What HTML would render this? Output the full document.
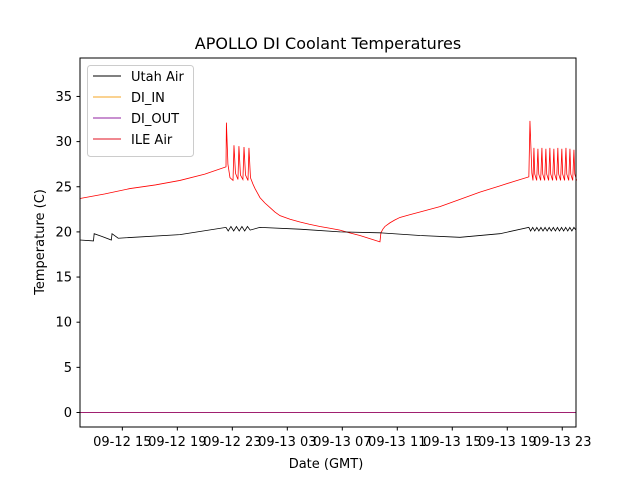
<!DOCTYPE html>
<html><head><meta charset="utf-8"><style>
body{margin:0;background:#fff}
svg{display:block;font-family:"DejaVu Sans","Liberation Sans",sans-serif}
</style></head><body>
<svg id="chart" width="640" height="480">
<rect width="640" height="480" fill="#fff"/>
<text x="328" y="49" text-anchor="middle" font-size="16">APOLLO DI Coolant Temperatures</text>
<text x="326" y="468" text-anchor="middle" font-size="13">Date (GMT)</text>
<text transform="translate(44,242) rotate(-90)" text-anchor="middle" font-size="13">Temperature (C)</text>
<g id="plot"></g>
<rect x="80" y="58" width="496" height="369" fill="none" stroke="#000" stroke-width="1"/>
<g>
<rect x="87.5" y="65.5" width="106" height="91" rx="3" fill="#fff" fill-opacity="0.8" stroke="#ccc"/>
<g><line x1="93" x2="121" y1="76" y2="76" stroke="#000" stroke-width="1"/><text x="131" y="81" font-size="13">Utah Air</text></g>
<g><line x1="93" x2="121" y1="97" y2="97" stroke="#f5a623" stroke-width="1"/><text x="131" y="102" font-size="13">DI_IN</text></g>
<g><line x1="93" x2="121" y1="118" y2="118" stroke="#9020a0" stroke-width="1"/><text x="131" y="123" font-size="13">DI_OUT</text></g>
<g><line x1="93" x2="121" y1="139" y2="139" stroke="#e01020" stroke-width="1"/><text x="131" y="144" font-size="13">ILE Air</text></g>
</g>
</svg>
<script>
const yTicks=[0,5,10,15,20,25,30,35];
const xTickHours=[15,19,23,27,31,35,39,43,47];
const xTickLabels=["09-12 15","09-12 19","09-12 23","09-13 03","09-13 07","09-13 11","09-13 15","09-13 19","09-13 23"];
const ileTimes=[11.92,13.7,15.56,17.4,19.19,21.0,22.54,22.57,22.68,22.83,23.05,23.12,23.23,23.41,23.48,23.59,23.77,23.85,23.96,24.14,24.21,24.32,24.5,24.65,24.83,25.01,25.37,25.74,26.1,26.47,27.2,27.92,28.6,29.37,30.1,30.83,31.5,32.28,33.0,33.74,33.81,33.95,34.10,34.46,34.8,35.19,35.9,36.65,38.10,39.56,41.01,42.47,43.5,44.57,44.65,44.79,44.87];
const ileValues=[23.7,24.2,24.8,25.2,25.7,26.4,27.2,32.1,27.5,26.0,25.7,29.6,26.5,25.8,29.5,26.3,25.8,29.4,26.3,25.7,29.3,26.0,25.3,24.8,24.3,23.8,23.2,22.7,22.2,21.8,21.4,21.1,20.85,20.6,20.4,20.2,19.9,19.6,19.25,18.9,19.9,20.3,20.6,21.0,21.3,21.6,21.9,22.2,22.8,23.6,24.4,25.1,25.6,26.1,32.3,26.5,25.7];
const ileSpikeTimes=[44.94,45.23,45.52,45.81,46.10,46.39,46.68,46.97,47.27,47.56,47.85];
const ileSpikeValues=[29.3,29.2,29.3,29.2,29.3,29.2,29.3,29.2,29.3,29.2,29.1];
const utahTimes=[11.92,12.9,12.95,13.5,14.2,14.25,14.7,19.19,22.54,22.7,22.9,23.1,23.3,23.5,23.7,23.9,24.1,24.3,25.0,27.92,30.83,33.74,36.65,39.56,42.47,44.57];
const utahValues=[19.1,19.0,19.8,19.5,19.1,19.8,19.3,19.7,20.5,20.1,20.6,20.1,20.6,20.1,20.6,20.1,20.6,20.2,20.5,20.3,20.0,19.9,19.6,19.4,19.8,20.5];
const utahOscTimes=[44.7,44.85,45.0,45.15,45.3,45.45,45.6,45.75,45.9,46.05,46.2,46.35,46.5,46.65,46.8,46.95,47.1,47.25,47.4,47.55,47.7,47.85,48.0];
const utahOscValues=[20.1,20.5,20.1,20.5,20.1,20.5,20.1,20.5,20.1,20.5,20.1,20.5,20.1,20.5,20.1,20.5,20.1,20.5,20.1,20.5,20.1,20.5,20.2];
const diTimes=[11.92,48.0];
const diInValues=[0,0];
const diOutValues=[0,0];

const X0=80,X1=576,H0=11.92,H1=48.0;
const Y0=412.5,PPU=9.03;
function xs(h){return X0+(h-H0)/(H1-H0)*(X1-X0);}
function ys(v){return Y0-v*PPU;}
const NS="http://www.w3.org/2000/svg";
const plot=document.getElementById('plot');
function mk(tag,attrs){const e=document.createElementNS(NS,tag);for(const k in attrs)e.setAttribute(k,attrs[k]);return e;}

yTicks.forEach(v=>{
  const g=mk('g',{});
  
  
  g.appendChild(mk('line',{x1:76.5,x2:80,y1:ys(v),y2:ys(v),stroke:'#000'}));
  const t=mk('text',{x:72,y:ys(v)+4.5,'text-anchor':'end','font-size':13});t.textContent=v;g.appendChild(t);
  plot.appendChild(g);
});
xTickHours.forEach((h,i)=>{
  const g=mk('g',{});
  
  
  g.appendChild(mk('line',{x1:xs(h),x2:xs(h),y1:427,y2:430.5,stroke:'#000'}));
  const t=mk('text',{x:xs(h),y:446,'text-anchor':'middle','font-size':13});t.textContent=xTickLabels[i];g.appendChild(t);
  plot.appendChild(g);
});
function path(ts,vs,color,name,w){
  const d=ts.map((t,i)=>(i?'L':'M')+xs(t).toFixed(2)+','+ys(vs[i]).toFixed(2)).join('');
  const p=mk('path',{d:d,fill:'none',stroke:color,'stroke-width':w||0.8});
  
  
  plot.appendChild(p);
}
const ileT=ileTimes.slice(),ileV=ileValues.slice();
ileSpikeTimes.forEach((t,i)=>{ileT.push(t,t+0.06,t+0.2);ileV.push(ileSpikeValues[i],26.4,25.7);});
const uT=utahTimes.concat(utahOscTimes),uV=utahValues.concat(utahOscValues);
path(diTimes,diInValues,'#f5a623','di-in-line',1);
path(diTimes,diOutValues,'#a02070','di-out-line',1);
path(ileT,ileV,'#ff0000','ile-air-line',0.8);
path(uT,uV,'#000','utah-air-line',0.8);
</script>
</body></html>
